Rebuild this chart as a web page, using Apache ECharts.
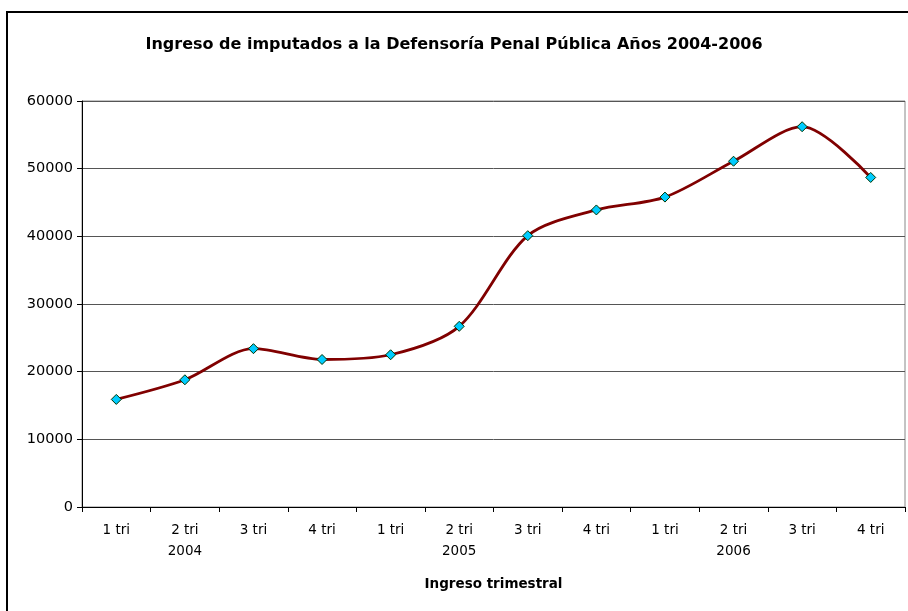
<!DOCTYPE html>
<html>
<head>
<meta charset="utf-8">
<script src="https://cdn.jsdelivr.net/npm/echarts@6/dist/echarts.min.js"></script>
<style>
  html, body { margin: 0; padding: 0; background: #fff; }
  #chart { width: 908px; height: 611px; }
</style>
</head>
<body>
<div id="chart"></div>
<script>
const categories = ['1 tri', '2 tri', '3 tri', '4 tri', '1 tri', '2 tri', '3 tri', '4 tri', '1 tri', '2 tri', '3 tri', '4 tri'];
const yearLabels = ['', '2004', '', '', '', '2005', '', '', '', '2006', '', ''];
const ingresos = [15900, 18800, 23400, 21800, 22500, 26700, 40100, 43900, 45800, 51100, 56200, 48700];
const yTicks = { min: 0, max: 60000, interval: 10000 };

const chart = echarts.init(document.getElementById('chart'));
const font = '"DejaVu Sans", Arial, sans-serif';
chart.setOption({
  animation: false,
  backgroundColor: '#fff',
  title: {
    text: 'Ingreso de imputados a la Defensoría Penal Pública Años 2004-2006',
    left: 'center',
    top: 32,
    textStyle: { fontFamily: font, fontSize: 16, fontWeight: 'bold', color: '#000' }
  },
  graphic: [{
    type: 'rect',
    shape: { x: 7, y: 12, width: 920, height: 620 },
    style: { fill: 'none', stroke: '#000', lineWidth: 2 },
    silent: true
  }],
  grid: {
    left: 82, top: 101, right: 3, bottom: 104,
    show: true, borderColor: '#888', borderWidth: 1, backgroundColor: 'transparent'
  },
  xAxis: [{
    type: 'category',
    data: categories,
    boundaryGap: true,
    axisLine: { lineStyle: { color: '#000', width: 1 } },
    axisTick: { show: true, length: 5, lineStyle: { color: '#000' } },
    axisLabel: { fontFamily: font, fontSize: 13.5, color: '#000', margin: 16, interval: 0 },
    name: 'Ingreso trimestral',
    nameLocation: 'middle',
    nameGap: 70,
    nameTextStyle: { fontFamily: font, fontSize: 13.5, fontWeight: 'bold', color: '#000' }
  }, {
    type: 'category',
    data: yearLabels,
    position: 'bottom',
    offset: 21,
    boundaryGap: true,
    axisLine: { show: false },
    axisTick: { show: false },
    axisLabel: { fontFamily: font, fontSize: 13.5, color: '#000', margin: 16, interval: 0 }
  }],
  yAxis: {
    type: 'value',
    min: yTicks.min, max: yTicks.max, interval: yTicks.interval,
    axisLine: { show: true, lineStyle: { color: '#000', width: 1 } },
    axisTick: { show: true, length: 5, lineStyle: { color: '#000' } },
    axisLabel: { fontFamily: font, fontSize: 14.5, color: '#000', margin: 9, formatter: v => String(v) },
    splitLine: { show: true, lineStyle: { color: '#555', width: 1 } }
  },
  series: [{
    type: 'line',
    data: ingresos,
    xAxisIndex: 0,
    smooth: 0.3,
    lineStyle: { color: '#800000', width: 2.8 },
    symbol: 'diamond',
    symbolSize: [10, 10],
    itemStyle: { color: '#00CCFF', borderColor: '#003300', borderWidth: 1 }
  }]
});
</script>
</body>
</html>
